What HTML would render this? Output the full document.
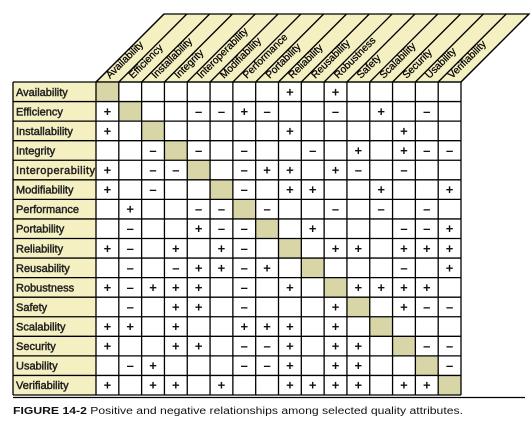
<!DOCTYPE html>
<html><head><meta charset="utf-8">
<style>
html,body{margin:0;padding:0;background:#fff;}
svg{display:block;font-family:"Liberation Sans",sans-serif;}
</style></head>
<body>
<svg id="chart" width="531" height="426" viewBox="0 0 531 426" xmlns="http://www.w3.org/2000/svg">
<g id="header"></g>
<g id="grid"></g>
<line x1="13" y1="397.5" x2="525" y2="397.5" stroke="#000" stroke-width="1.2"/>
<text x="13" y="414" font-size="10" fill="#111" textLength="450" lengthAdjust="spacingAndGlyphs"><tspan font-weight="bold">FIGURE 14-2</tspan>  Positive and negative relationships among selected quality attributes.</text>
</svg>
<script>
const attributes = ["Availability","Efficiency","Installability","Integrity","Interoperability","Modifiability","Performance","Portability","Reliability","Reusability","Robustness","Safety","Scalability","Security","Usability","Verifiability"];
const relations = [
"........+.+.....",
"+...--+-..-.+.-.",
"+.......+....+..",
"..-.-.-..-.+.+--",
"+.--..-++.+-.-..",
"+.-...-.++..+..+",
".+..--.-..-.-.-.",
".-..+--..+...--+",
"+-.+.+-...++.+++",
".-.-++-+.....-.+",
"+-+++.-.+..++++.",
".-.++.-...+..+--",
"++.+..+++.+.....",
"+..++.--+.++..--",
".-+...--+.++...-",
"+.++.+..++++.++."
];
const NS="http://www.w3.org/2000/svg";
const L=13, X0=96, X1=461, Y0=82, Y1=395, HT=68;
const n=attributes.length;
const cw=(X1-X0)/n, rh=(Y1-Y0)/n;
const colX=i=>X0+i*cw, rowY=i=>Y0+i*rh;
function mk(tag,attrs,parent){const e=document.createElementNS(NS,tag);for(const k in attrs)e.setAttribute(k,attrs[k]);parent.appendChild(e);return e;}
const hdr=document.getElementById('header'), grid=document.getElementById('grid');
const hp=mk('polygon',{points:`${X0},${Y0} ${X0+HT},${Y0-HT} ${X1+HT},${Y0-HT} ${X1},${Y0}`,fill:'#f4f0c2',stroke:'#000','stroke-width':'1.3'},hdr);


for(let i=0;i<=n;i++){
  const ln=mk('line',{x1:colX(i),y1:Y0,x2:colX(i)+HT,y2:Y0-HT,stroke:'#000','stroke-width':'1.3'},hdr);
  
  
}
attributes.forEach((a,i)=>{
  const x=colX(i)+14, y=79;
  const t=mk('text',{x:x,y:y,'font-size':'10.2',fill:'#000',stroke:'#000','stroke-width':'0.25',transform:`rotate(-45 ${x} ${y})`},hdr);
  t.textContent=a;
  
  
});
attributes.forEach((a,r)=>{
  const y=rowY(r);
  const rl=mk('rect',{x:L,y:y,width:X0-L,height:rh,fill:'#f4f0c2'},grid);
  
  
  const t=mk('text',{x:L+3,y:y+rh/2+4,'font-size':'11',fill:'#222',stroke:'#222','stroke-width':'0.45'},grid);
  t.textContent=a;
  if(a.length>14) t.setAttribute('textLength','79');
  
  
  for(let c=0;c<n;c++){
    const ch=relations[r][c];
    if(r===c){
      const d=mk('rect',{x:colX(c),y:y,width:cw,height:rh,fill:'#d8d5a6'},grid);
      
      
    } else if(ch==='+'||ch==='-'){
      const s=mk('text',{x:colX(c)+cw/2,y:y+rh/2+4.5,'font-size':'13','font-weight':'bold','text-anchor':'middle',fill:'#111'},grid);
      s.textContent=ch==='+'?'+':'\u2013';
      
      
    }
  }
});
for(let i=0;i<=n;i++){
  const h=mk('line',{x1:L,y1:rowY(i),x2:X1,y2:rowY(i),stroke:'#000','stroke-width':'1.3'},grid);
  
  
  const v=mk('line',{x1:colX(i),y1:Y0,x2:colX(i),y2:Y1,stroke:'#000','stroke-width':'1.3'},grid);
  
  
}
const lb=mk('line',{x1:L,y1:Y0,x2:L,y2:Y1,stroke:'#000','stroke-width':'1.3'},grid);


</script>
</body></html>
